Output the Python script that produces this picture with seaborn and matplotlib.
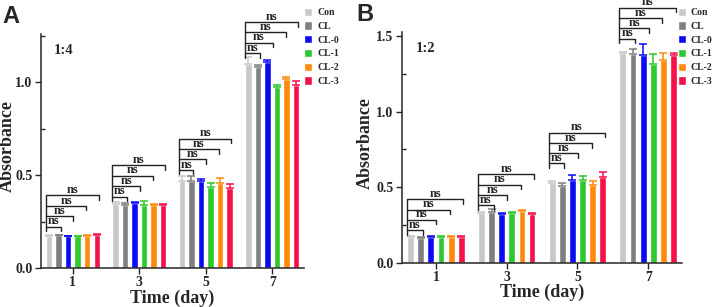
import matplotlib
matplotlib.use("Agg")
import matplotlib.pyplot as plt
import numpy as np
import pandas as pd
import seaborn as sns

days = ["1", "3", "5", "7"]
groups = ["Con", "CL", "CL-0", "CL-1", "CL-2", "CL-3"]
colors = ["#C8C8C8", "#7F7F7F", "#0A0AF5", "#2DC82D", "#FF8A0A", "#F5104A"]

# panel A (1:4), one row per day, one value per group
a_means = [
    [0.175, 0.176, 0.172, 0.172, 0.173, 0.177],
    [0.345, 0.340, 0.348, 0.337, 0.337, 0.341],
    [0.469, 0.469, 0.466, 0.439, 0.460, 0.433],
    [1.099, 1.081, 1.108, 0.973, 1.020, 0.984],
]
a_errs = [
    [0.004, 0.004, 0.003, 0.003, 0.004, 0.005],
    [0.012, 0.009, 0.005, 0.023, 0.010, 0.004],
    [0.027, 0.027, 0.016, 0.018, 0.023, 0.020],
    [0.035, 0.012, 0.015, 0.015, 0.008, 0.025],
]
# panel B (1:2)
b_means = [
    [0.172, 0.166, 0.173, 0.171, 0.172, 0.171],
    [0.331, 0.337, 0.322, 0.331, 0.340, 0.320],
    [0.529, 0.511, 0.547, 0.547, 0.516, 0.566],
    [1.388, 1.384, 1.377, 1.318, 1.340, 1.377],
]
b_errs = [
    [0.003, 0.003, 0.003, 0.003, 0.003, 0.003],
    [0.005, 0.018, 0.008, 0.006, 0.006, 0.010],
    [0.012, 0.020, 0.031, 0.027, 0.024, 0.035],
    [0.006, 0.033, 0.073, 0.066, 0.050, 0.013],
]
# lowest "ns" bracket level per day, and spacing between brackets
a_brackets = [0.223, 0.385, 0.529, 1.158]
b_brackets = [0.216, 0.381, 0.657, 1.483]
a_step = 0.056
b_step = 0.068
bracket_ends = [1.2, 2.55, 3.9, 5.2]  # in bar pitches from Con

sns.set_style("ticks")
plt.rcParams["font.family"] = ["Liberation Serif", "DejaVu Serif"]
plt.rcParams["font.weight"] = "bold"


def draw_panel(ax, means, errs, brackets, step, ylim, yticks, ratio, ylab_x, xlab_y):
    rows = []
    for i, d in enumerate(days):
        for j, g in enumerate(groups):
            rows.append({"day": d, "group": g, "value": means[i][j], "err": errs[i][j]})
    df = pd.DataFrame(rows)

    sns.barplot(data=df, x="day", y="value", hue="group", hue_order=groups,
                palette=colors, errorbar=None, width=0.86, gap=0.33,
                saturation=1, ax=ax, legend=True)
    bars = list(ax.containers)

    for j, cont in enumerate(bars):
        for i, p in enumerate(cont.patches):
            x = p.get_x() + p.get_width() / 2
            ax.errorbar(x, p.get_height(), yerr=[[0], [errs[i][j]]], fmt="none",
                        ecolor=colors[j], elinewidth=1.1, capsize=3, capthick=1.1,
                        zorder=1)

    tick = 0.45 * step
    for i in range(len(days)):
        con = bars[0].patches[i]
        cl = bars[1].patches[i]
        x0 = con.get_x() + con.get_width() / 2
        pitch = (cl.get_x() + cl.get_width() / 2) - x0
        left = con.get_x()
        for k, e in enumerate(bracket_ends):
            y = brackets[i] + k * step
            right = x0 + e * pitch
            ldrop = tick if k == 0 else step
            ax.plot([left, left, right, right], [y - ldrop, y, y, y - tick],
                    color="#222222", lw=1.0, clip_on=False, zorder=3)
            ax.text((left + right) / 2, y - 0.004, "ns", ha="center", va="bottom",
                    fontsize=9, fontweight="bold", clip_on=False)

    ax.set_ylim(*ylim)
    ax.set_xlim(-0.48, 3.48)
    ax.set_yticks(yticks)
    ax.set_yticklabels([f"{t:.1f}" for t in yticks])
    ax.set_yticks(np.arange(0.25, ylim[1], 0.5), minor=True)
    ax.tick_params(axis="both", which="major", labelsize=10, length=4, width=1,
                   direction="out", pad=2)
    ax.tick_params(axis="y", which="minor", length=3, width=1, direction="in")
    for lab in ax.get_xticklabels() + ax.get_yticklabels():
        lab.set_fontweight("bold")
    ax.set_xlabel("Time (day)", fontsize=13, fontweight="bold")
    ax.set_ylabel("Absorbance", fontsize=13, fontweight="bold")
    ax.yaxis.set_label_coords(ylab_x, 0.52)
    ax.xaxis.set_label_coords(0.5, xlab_y)
    sns.despine(ax=ax)
    for s in ["left", "bottom"]:
        ax.spines[s].set_linewidth(1.1)
    ax.text(0.05, 0.93, ratio, transform=ax.transAxes, fontsize=10.5,
            fontweight="bold", va="center", ha="left")
    return bars


fig = plt.figure(figsize=(7.13, 3.07), dpi=100)
axA = fig.add_axes([0.0575, 0.127, 0.369, 0.762])
axB = fig.add_axes([0.5638, 0.144, 0.393, 0.752])

barsA = draw_panel(axA, a_means, a_errs, a_brackets, a_step, (0, 1.26),
                   [0.0, 0.5, 1.0], "1:4", -0.095, -0.094)
barsB = draw_panel(axB, b_means, b_errs, b_brackets, b_step, (0, 1.527),
                   [0.0, 0.5, 1.0, 1.5], "1:2", -0.102, -0.09)

for ax, bars, anchor in [(axA, barsA, (0.427, 0.975)), (axB, barsB, (0.951, 0.975))]:
    ax.legend(bars, groups, loc="upper left", bbox_to_anchor=anchor,
              bbox_transform=fig.transFigure, frameon=False,
              handlelength=0.8, handleheight=0.9, handletextpad=0.5,
              labelspacing=0.45, borderpad=0, borderaxespad=0,
              prop={"weight": "bold", "size": 7})

fig.text(0.004, 0.985, "A", fontsize=17, fontweight="bold", family="Liberation Sans",
         ha="left", va="top")
fig.text(0.5, 0.99, "B", fontsize=17, fontweight="bold", family="Liberation Sans",
         ha="left", va="top")

fig.savefig("out.png", dpi=100)
